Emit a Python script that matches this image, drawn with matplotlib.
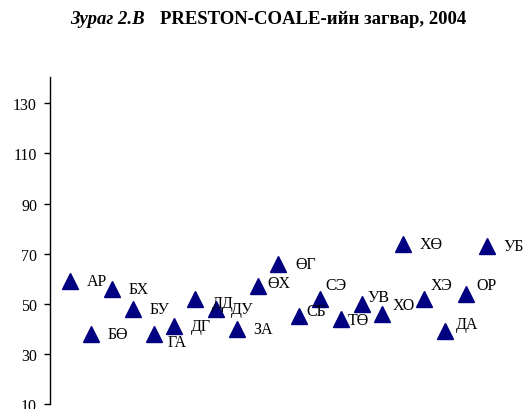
import matplotlib
matplotlib.use('Agg')
import matplotlib.pyplot as plt

# Data
labels = ['АР', 'БӨ', 'БХ', 'БУ', 'ГА', 'ДГ', 'ДД', 'ДУ', 'ЗА', 'ӨХ', 'ӨГ',
          'СБ', 'СЭ', 'ТӨ', 'УВ', 'ХО', 'ХӨ', 'ХЭ', 'ДА', 'ОР', 'УБ']
values = [59, 38, 56, 48, 38, 41, 52, 48, 40, 57, 66,
          45, 52, 44, 50, 46, 74, 52, 39, 54, 73]
yticks = [10, 30, 50, 70, 90, 110, 130]

# label offsets in points (dx, dy), most sit right of the marker
offsets = {'ГА': (10, -6), 'ДД': (12, -3), 'ДУ': (11, 0), 'ӨХ': (7, 2),
           'СБ': (5, 4), 'СЭ': (4, 10), 'ТӨ': (5, -1), 'УВ': (4, 5),
           'ХО': (7, 6), 'ХЭ': (5, 10), 'ДА': (8, 5), 'ОР': (8, 6)}

plt.rcParams['font.family'] = ['Liberation Serif', 'DejaVu Serif']

fig = plt.figure(figsize=(5.24, 4.10), dpi=100)
ax = fig.add_axes([49.5/524, 5/410, 1 - 49.5/524, 327/410])

x = list(range(1, len(values) + 1))
ax.plot(x, values, linestyle='none', marker='^', markersize=11,
        color='#000080')

for xi, v, lab in zip(x, values, labels):
    dx, dy = offsets.get(lab, (12, 0))
    ax.annotate(lab, (xi, v), xytext=(dx, dy), textcoords='offset points',
                fontsize=11.5, va='center', ha='left')

ax.set_xlim(0, 22.8)
ax.set_ylim(10, 140.5)
ax.set_yticks(yticks)
ax.tick_params(axis='y', direction='out', length=4, width=1, pad=5,
               labelsize=11.5)
ax.set_xticks([])
for s in ['top', 'right', 'bottom']:
    ax.spines[s].set_visible(False)
ax.spines['left'].set_linewidth(1)

# Title in two parts
fig.text(70/524, 1 - 19/410, 'Зураг 2.В', fontsize=13.5, fontweight='bold',
         fontstyle='italic', va='center', ha='left')
fig.text(160/524, 1 - 19/410, 'PRESTON-COALE-ийн загвар, 2004', fontsize=13.5,
         fontweight='bold', va='center', ha='left')

fig.savefig('out.png', dpi=100)
